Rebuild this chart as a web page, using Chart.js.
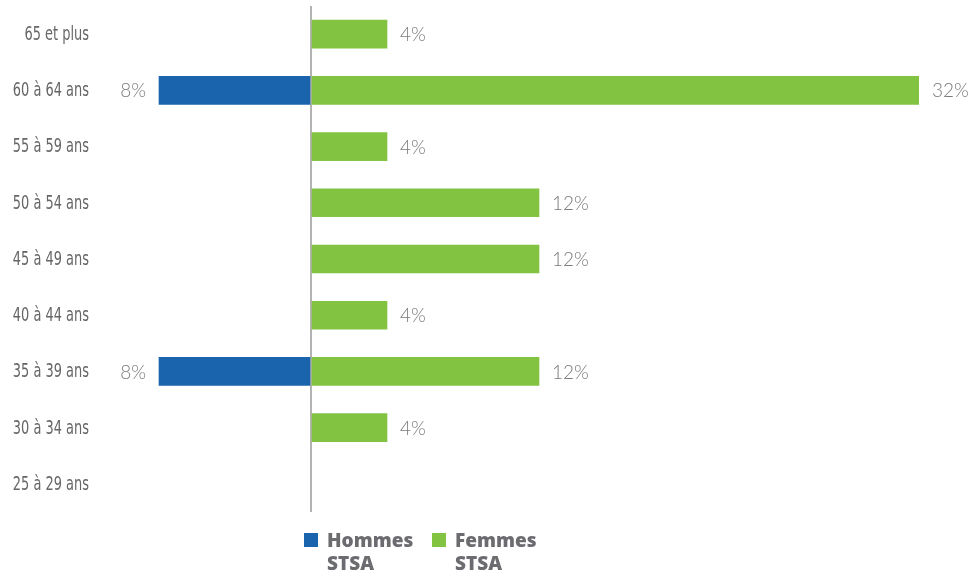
<!DOCTYPE html>
<html lang="fr">
  <head>
    <meta charset="UTF-8" />
    <title>Pyramide des âges STSA</title>
    <script src="https://cdn.jsdelivr.net/npm/chart.js"></script>
    <style>
      html, body { margin: 0; padding: 0; background: #fff; }
      #wrap { position: relative; width: 974px; height: 574px; }
    </style>
  </head>
  <body>
    <div id="wrap"><canvas id="myChart" width="974" height="574"></canvas></div>

    <script>
      // Données
      var categories = ["65 et plus", "60 à 64 ans", "55 à 59 ans", "50 à 54 ans", "45 à 49 ans", "40 à 44 ans", "35 à 39 ans", "30 à 34 ans", "25 à 29 ans"];
      var hommes = [0, 8, 0, 0, 0, 0, 8, 0, 0];
      var femmes = [4, 32, 4, 12, 12, 4, 12, 4, 0];
      var seriesLabels = [["Hommes", "STSA"], ["Femmes", "STSA"]];
      var seriesColors = ["#1a63ad", "#82c341"];

      var ctx = document.getElementById("myChart").getContext("2d");

      // étiquettes de l'axe vertical, police étroite
      var axeLabels = {
        id: "axeLabels",
        afterDraw: function (chart) {
          var c = chart.ctx;
          var y = chart.scales.y;
          c.save();
          c.font = "18px 'DejaVu Sans Condensed', 'DejaVu Sans', sans-serif";
          c.fillStyle = "#666";
          c.textAlign = "right";
          c.textBaseline = "middle";
          categories.forEach(function (t, i) {
            c.save();
            c.translate(89, y.getPixelForValue(i) + 1);
            c.scale(0.8, 1.05);
            c.fillText(t, 0, 0);
            c.restore();
          });
          c.restore();
        },
      };

      // étiquettes de valeurs au bout des barres
      var valueLabels = {
        id: "valueLabels",
        afterDatasetsDraw: function (chart) {
          var c = chart.ctx;
          c.save();
          c.font = "300 19px Lato, 'Open Sans', sans-serif";
          c.fillStyle = "#7a7a7a";
          c.textBaseline = "middle";
          chart.data.datasets.forEach(function (ds, i) {
            var meta = chart.getDatasetMeta(i);
            meta.data.forEach(function (bar, j) {
              var v = ds.data[j];
              if (!v) return;
              var txt = Math.abs(v) + "%";
              if (v < 0) {
                c.textAlign = "right";
                c.fillText(txt, bar.x - 13, bar.y + 1);
              } else {
                c.textAlign = "left";
                c.fillText(txt, bar.x + 13, bar.y + 1);
              }
            });
          });
          c.restore();
        },
      };

      // légende sur deux lignes
      var legendBas = {
        id: "legendBas",
        afterDraw: function (chart) {
          var c = chart.ctx;
          var x0 = chart.scales.x.getPixelForValue(0) - 7;
          var pos = [x0, x0 + 128];
          c.save();
          c.font = "800 19px 'Open Sans', sans-serif";
          c.textAlign = "left";
          c.textBaseline = "alphabetic";
          seriesLabels.forEach(function (lines, i) {
            c.fillStyle = seriesColors[i];
            c.fillRect(pos[i], 533, 14, 14);
            c.fillStyle = "#6b6b70";
            lines.forEach(function (t, k) {
              c.fillText(t, pos[i] + 23, 547 + k * 23);
            });
          });
          c.restore();
        },
      };

      new Chart(ctx, {
        type: "bar",
        data: {
          labels: categories,
          datasets: [
            {
              label: seriesLabels[0].join(" "),
              data: hommes.map(function (v) { return v ? -v : null; }),
              backgroundColor: seriesColors[0],
              barThickness: 28,
            },
            {
              label: seriesLabels[1].join(" "),
              data: femmes.map(function (v) { return v || null; }),
              backgroundColor: seriesColors[1],
              barThickness: 28,
            },
          ],
        },
        options: {
          indexAxis: "y",
          responsive: false,
          animation: false,
          layout: { padding: { top: 6, right: 55, bottom: 62, left: 0 } },
          plugins: {
            legend: { display: false },
            tooltip: { enabled: false },
          },
          scales: {
            x: {
              stacked: true,
              min: -11,
              max: 32,
              ticks: { display: false, stepSize: 1 },
              border: { display: false },
              grid: {
                drawTicks: false,
                lineWidth: 2,
                color: function (c) {
                  return c.tick && c.tick.value === 0 ? "#b3b3b3" : "rgba(0,0,0,0)";
                },
              },
            },
            y: {
              stacked: true,
              border: { display: false },
              grid: { display: false, drawTicks: false },
              ticks: { display: false },
              afterFit: function (scale) {
                scale.width = 102;
              },
            },
          },
        },
        plugins: [valueLabels, legendBas, axeLabels],
      });
    </script>
  </body>
</html>
